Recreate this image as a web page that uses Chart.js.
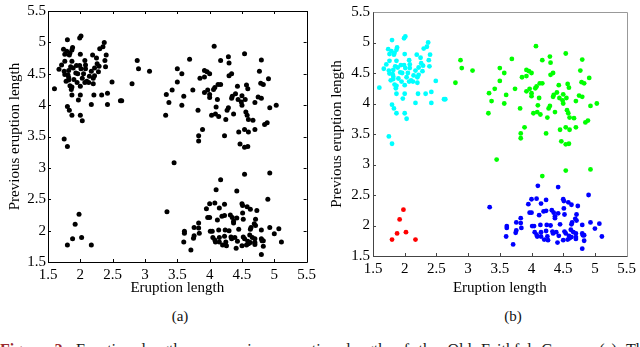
<!DOCTYPE html>
<html>
<head>
<meta charset="utf-8">
<script src="https://cdn.jsdelivr.net/npm/chart.js@4.4.1/dist/chart.umd.min.js"></script>
<style>
html,body{margin:0;padding:0;background:#fff;}
body{width:640px;height:347px;overflow:hidden;position:relative;font-family:"Liberation Serif","Times New Roman",serif;}
#c1{position:absolute;left:0;top:0;}
#c2{position:absolute;left:320px;top:0;}
.sub{position:absolute;top:307px;font-size:15px;line-height:18px;color:#111;transform:translateX(-50%);white-space:nowrap;}
#cap{position:absolute;left:0;top:342px;white-space:nowrap;font-size:16px;line-height:16px;color:#1a1a1a;word-spacing:5.5px;}
#cap b{color:#9b2a2e;}
</style>
</head>
<body>
<canvas id="c1" width="320" height="300"></canvas>
<canvas id="c2" width="320" height="300"></canvas>
<div class="sub" style="left:180px">(a)</div>
<div class="sub" style="left:513px">(b)</div>
<div id="cap"><b>Figure 2.</b> Eruption length vs. previous eruption length of the Old Faithful Geyser. (a) The</div>
<script>
// ---- data (eruption length, previous eruption length) ----
const xTicks = [1.5, 2, 2.5, 3, 3.5, 4, 4.5, 5, 5.5];
const xTickLabels = ['1.5', '2', '2.5', '3', '3.5', '4', '4.5', '5', '5.5'];
const yTicks = [1.5, 2, 2.5, 3, 3.5, 4, 4.5, 5, 5.5];
const yTickLabels = ['1.5', '2', '2.5', '3', '3.5', '4', '4.5', '5', '5.5'];

const cyanX = [1.80,1.99,2.01,2.37,2.35,2.30,1.74,1.88,1.87,1.79,
  1.84,1.76,1.83,2.00,2.19,2.40,2.25,2.07,1.87,1.76,
  2.38,2.26,1.71,1.94,1.99,2.08,1.85,1.89,2.01,1.67,
  2.29,2.39,2.08,2.22,1.75,1.82,2.28,2.17,1.93,1.96,
  2.05,1.76,1.81,2.22,2.14,1.82,2.03,2.20,1.82,1.90,
  2.10,2.13,2.07,1.78,1.95,2.20,2.49,1.84,1.87,2.00,
  1.60,1.86,2.42,2.33,2.21,2.00,1.87,1.97,2.62,2.64,
  2.17,2.42,1.80,1.83,1.87,2.00,2.03,1.75,1.80];
const cyanY = [5.04,5.07,5.10,5.00,4.93,4.90,4.89,4.92,4.88,4.86,
  4.83,4.81,4.80,4.81,4.80,4.80,4.75,4.71,4.70,4.70,
  4.71,4.66,4.64,4.63,4.63,4.64,4.61,4.59,4.58,4.57,
  4.62,4.61,4.58,4.59,4.54,4.55,4.53,4.54,4.51,4.50,
  4.50,4.49,4.48,4.47,4.46,4.44,4.43,4.43,4.40,4.41,
  4.38,4.36,4.36,4.38,4.36,4.34,4.37,4.31,4.29,4.30,
  4.26,4.25,4.19,4.16,4.16,4.16,4.16,4.08,4.07,4.07,
  4.01,4.01,3.98,3.92,3.84,3.84,3.75,3.46,3.34];

const redX = [1.80,1.88,1.92,1.98,2.02,2.17];
const redY = [1.77,1.87,2.10,2.26,1.89,1.77];

const greenX = [4.07,2.88,3.69,2.90,3.07,3.50,3.57,3.92,3.96,4.00,
  3.85,3.92,2.80,3.50,4.13,4.08,4.06,3.42,3.74,3.97,
  3.92,3.33,4.00,3.60,4.00,4.12,3.37,3.57,4.10,3.82,
  3.32,4.03,4.09,4.14,3.89,3.83,3.83,3.45,
  4.54,4.29,4.17,4.80,4.30,4.77,4.34,4.30,4.91,4.79,
  4.83,4.17,4.57,4.43,4.59,4.40,4.35,4.34,4.50,4.44,
  4.55,4.75,4.80,4.49,4.50,4.70,5.03,4.93,4.29,4.27,
  4.56,4.58,4.37,4.25,4.60,4.67,4.89,4.85,4.45,4.54,
  4.60,4.70,4.23,4.47,4.54,4.59,4.17,4.54,4.93];
const greenY = [4.94,4.71,4.73,4.58,4.54,4.58,4.50,4.55,4.53,4.50,
  4.43,4.45,4.34,4.37,4.33,4.28,4.25,4.24,4.24,4.24,
  4.20,4.17,4.17,4.14,4.12,4.09,4.04,4.00,3.97,3.92,
  3.84,3.84,3.86,3.82,3.61,3.51,3.43,3.08,
  4.82,4.77,4.71,4.72,4.67,4.54,4.50,4.47,4.42,4.35,
  4.33,4.33,4.32,4.30,4.26,4.18,4.14,4.11,4.15,4.09,
  4.09,4.13,4.11,4.05,4.00,4.04,4.00,3.96,3.96,3.92,
  3.89,3.84,3.86,3.77,3.77,3.76,3.72,3.69,3.57,3.61,
  3.57,3.61,3.51,3.38,3.33,3.34,2.81,2.90,2.92];

const blueX = [4.10,3.34,4.00,4.08,3.95,4.15,4.23,3.97,4.00,4.12,
  4.19,4.23,4.32,4.35,3.83,3.76,3.83,3.84,3.61,3.61,
  4.01,4.04,4.14,4.24,4.30,3.76,3.75,4.05,4.08,4.15,
  4.23,4.33,4.34,3.60,4.09,4.15,4.25,4.20,4.26,3.71,
  4.42,4.90,4.50,4.51,4.58,4.63,4.73,4.51,4.42,4.52,
  4.37,4.37,4.71,4.69,4.71,4.64,4.63,4.45,4.80,4.93,
  5.07,5.00,4.62,4.39,4.52,4.54,4.66,4.70,4.80,4.83,
  4.43,4.59,4.63,4.70,4.81,5.11,4.50,4.57,4.60,4.70,
  4.83,4.41,4.80];
const blueY = [2.65,2.30,2.43,2.44,2.35,2.36,2.42,2.21,2.21,2.17,
  2.23,2.24,2.25,2.21,2.12,2.05,2.04,1.96,1.99,1.96,
  1.99,1.99,2.01,2.01,2.00,1.92,1.88,1.89,1.85,1.89,
  1.91,1.90,1.87,1.82,1.82,1.82,1.82,1.77,1.76,1.69,
  2.63,2.50,2.43,2.40,2.38,2.34,2.32,2.28,2.20,2.18,
  2.15,2.12,2.18,2.11,2.08,2.05,2.02,2.02,2.01,2.05,
  2.03,1.95,1.93,1.89,1.90,1.87,1.89,1.87,1.87,1.84,
  1.83,1.83,1.81,1.81,1.84,1.82,1.76,1.77,1.79,1.78,
  1.75,1.72,1.62];

const xTitle = 'Eruption length';
const yTitle = 'Previous eruption length';

// ---- helpers ----
const pts = (xs, ys) => xs.map((x, i) => ({x: x, y: ys[i]}));
const FONT = 'Liberation Serif';

const framePlugin = {
  id: 'frame',
  beforeDatasetsDraw(chart, args, o) {
    const {ctx, chartArea: a, scales} = chart;
    const L = 3;
    ctx.save();
    ctx.lineWidth = 1;
    ctx.strokeStyle = o.tickColor;
    ctx.beginPath();
    scales.x.ticks.forEach(t => {
      const px = Math.round(scales.x.getPixelForValue(t.value)) + 0.5;
      ctx.moveTo(px, a.bottom); ctx.lineTo(px, a.bottom - L);
      if (o.allSides) { ctx.moveTo(px, a.top); ctx.lineTo(px, a.top + L); }
    });
    scales.y.ticks.forEach(t => {
      const py = Math.round(scales.y.getPixelForValue(t.value)) + 0.5;
      ctx.moveTo(a.left, py); ctx.lineTo(a.left + L, py);
      if (o.allSides) { ctx.moveTo(a.right, py); ctx.lineTo(a.right - L, py); }
    });
    ctx.stroke();
    const l = Math.round(a.left) + 0.5, r = Math.round(a.right) + 0.5;
    const t = Math.round(a.top) + 0.5, b = Math.round(a.bottom) + 0.5;
    ctx.strokeStyle = o.farColor;
    ctx.beginPath();
    ctx.moveTo(l, t); ctx.lineTo(r, t); ctx.lineTo(r, b);
    ctx.stroke();
    ctx.strokeStyle = o.nearColor;
    ctx.beginPath();
    ctx.moveTo(l, t); ctx.lineTo(l, b); ctx.lineTo(r, b);
    ctx.stroke();
    ctx.restore();
  }
};

function makeChart(id, datasets, area, opt) {
  const canvas = document.getElementById(id);
  const W = canvas.width, H = canvas.height;
  return new Chart(canvas, {
    type: 'scatter',
    data: {datasets: datasets},
    plugins: [framePlugin],
    options: {
      responsive: false,
      animation: false,
      events: [],
      layout: {padding: {left: 0, top: area.top, right: W - area.right, bottom: 0}},
      plugins: {
        legend: {display: false},
        tooltip: {enabled: false},
        frame: opt.frame
      },
      elements: {point: {radius: 2.4, borderWidth: 0, hoverRadius: 2.4}},
      scales: {
        x: {
          type: 'linear', min: 1.5, max: 5.5,
          afterBuildTicks: s => { s.ticks = xTicks.map(v => ({value: v})); },
          afterFit: s => { s.height = H - area.bottom; },
          grid: {display: false, drawTicks: false},
          border: {display: false},
          ticks: {padding: opt.xPad, color: '#000', font: {family: FONT, size: 15}, maxRotation: 0, autoSkip: false,
                  callback: (v, i) => xTickLabels[i]},
          title: {display: true, text: xTitle, color: '#000', font: {family: FONT, size: 15}, padding: {top: 0, bottom: 3}}
        },
        y: {
          type: 'linear', min: 1.5, max: 5.5,
          afterBuildTicks: s => { s.ticks = yTicks.map(v => ({value: v})); },
          afterFit: s => { s.width = area.left; },
          grid: {display: false, drawTicks: false},
          border: {display: false},
          ticks: {padding: opt.yPad, color: '#000', font: {family: FONT, size: 15}, autoSkip: false,
                  callback: (v, i) => yTickLabels[i]},
          title: {display: true, text: yTitle, color: '#000', font: {family: FONT, size: 15}, padding: {top: opt.yTitlePad, bottom: 0}}
        }
      }
    }
  });
}

// (a) all points in black
const allX = cyanX.concat(redX, greenX, blueX);
const allY = cyanY.concat(redY, greenY, blueY);
makeChart('c1', [
  {data: pts(allX, allY), backgroundColor: '#000', pointRadius: 2.5}
], {left: 48, right: 308, top: 5, bottom: 262},
{xPad: 4, yPad: 2, yTitlePad: 6, frame: {allSides: true, nearColor: '#000', farColor: '#000', tickColor: '#000'}});

// (b) clustered points
makeChart('c2', [
  {data: pts(cyanX, cyanY), backgroundColor: '#00ffff'},
  {data: pts(greenX, greenY), backgroundColor: '#00ff00'},
  {data: pts(blueX, blueY), backgroundColor: '#0000ff'},
  {data: pts(redX, redY), backgroundColor: '#ff0000'}
], {left: 53, right: 312, top: 5, bottom: 256},
{xPad: 4, yPad: 3, yTitlePad: 8, frame: {allSides: false, nearColor: '#444', farColor: '#999', tickColor: '#444'}});
</script>
</body>
</html>
